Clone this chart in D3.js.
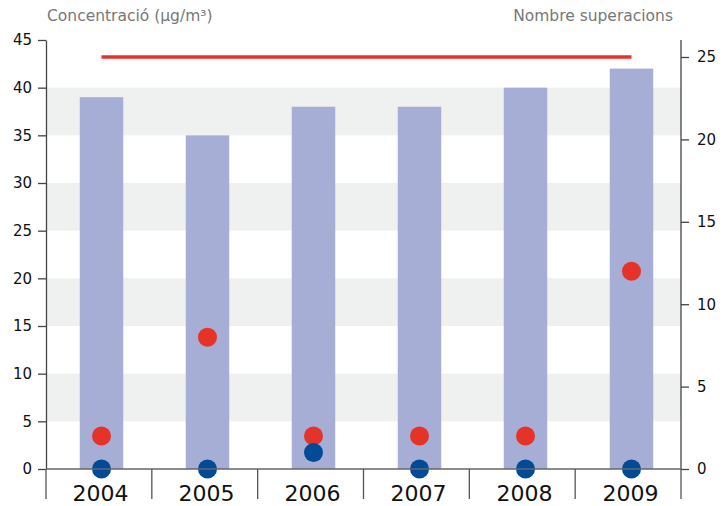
<!DOCTYPE html>
<html>
<head>
<meta charset="utf-8">
<script src="https://cdn.jsdelivr.net/npm/d3@7"></script>
<style>
  body { margin: 0; background: #fff; }
  text { font-family: "DejaVu Sans", sans-serif; }
</style>
</head>
<body>
<div id="main"></div>
<script>
// data
const years = ['2004', '2005', '2006', '2007', '2008', '2009'];
const concentration = [39, 35, 38, 38, 40, 42];      // bars, left axis (µg/m3)
const exceedRed = [2, 8, 2, 2, 2, 12];                // red dots, right axis
const exceedBlue = [0, 0, 1, 0, 0, 0];                // blue dots, right axis
const limitValue = 25;                                 // red line, right axis
const leftTicks = [0, 5, 10, 15, 20, 25, 30, 35, 40, 45];
const rightTicks = [0, 5, 10, 15, 20, 25];

const width = 726;
const height = 506;
const margin = { top: 40, right: 45, bottom: 37, left: 46 };
const plotRight = width - margin.right;
const plotBottom = height - margin.bottom;

const colors = {
  bar: '#a6aed5',
  red: '#e6332a',
  blue: '#004b98',
  stripe: '#eff0f0',
  axis: '#444',
  title: '#777'
};

const svg = d3.select('#main')
  .append('svg')
  .attr('width', width)
  .attr('height', height);

// bars sit a touch to the right of the cells drawn by the dividers
const xScale = d3.scaleBand()
  .domain(years)
  .range([margin.left + 2.5, plotRight + 3.5])
  .paddingInner(0.59)
  .paddingOuter(0.295);

const xGrid = d3.scaleBand()
  .domain(years)
  .range([margin.left, plotRight]);

const yLeft = d3.scaleLinear()
  .domain([0, 45])
  .range([plotBottom, margin.top]);

// right axis: 25 sits a little below the top of the plot
const yRight = d3.scaleLinear()
  .domain([0, 25])
  .range([plotBottom, 57]);

// background stripes between every other tick
const stripes = d3.pairs(leftTicks).filter((d, i) => i % 2 === 1 && d[1] <= 40);
svg.append('g').selectAll('rect')
  .data(stripes)
  .enter()
  .append('rect')
  .attr('x', margin.left)
  .attr('width', plotRight - margin.left)
  .attr('y', (d) => yLeft(d[1]))
  .attr('height', (d) => yLeft(d[0]) - yLeft(d[1]))
  .attr('fill', colors.stripe);

// bars
svg.append('g').selectAll('rect')
  .data(concentration)
  .enter()
  .append('rect')
  .attr('x', (d, i) => xScale(years[i]))
  .attr('width', xScale.bandwidth())
  .attr('y', (d) => yLeft(d))
  .attr('height', (d) => yLeft(0) - yLeft(d))
  .attr('fill', colors.bar);

// limit line
const center = (y) => xScale(y) + xScale.bandwidth() / 2;
svg.append('line')
  .attr('x1', center(years[0]))
  .attr('x2', center(years[years.length - 1]))
  .attr('y1', yRight(limitValue))
  .attr('y2', yRight(limitValue))
  .attr('stroke', colors.red)
  .attr('stroke-width', 3.5);

// dots
const dotRadius = 9.5;
svg.append('g').selectAll('circle')
  .data(exceedRed)
  .enter()
  .append('circle')
  .attr('cx', (d, i) => center(years[i]))
  .attr('cy', (d) => yRight(d))
  .attr('r', dotRadius)
  .attr('fill', colors.red);

svg.append('g').selectAll('circle')
  .data(exceedBlue)
  .enter()
  .append('circle')
  .attr('cx', (d, i) => center(years[i]))
  .attr('cy', (d) => yRight(d))
  .attr('r', dotRadius)
  .attr('fill', colors.blue);

// left axis
const leftAxis = svg.append('g')
  .attr('transform', `translate(${margin.left}, 0)`)
  .call(d3.axisLeft(yLeft).tickValues(leftTicks).tickSize(8).tickSizeOuter(0).tickPadding(6));

// right axis
const rightAxis = svg.append('g')
  .attr('transform', `translate(${plotRight}, 0)`)
  .call(d3.axisRight(yRight).tickValues(rightTicks).tickSize(8).tickSizeOuter(0).tickPadding(8));
rightAxis.select('.domain')
  .attr('d', `M0,${margin.top}V${plotBottom}`);

[leftAxis, rightAxis].forEach((ax) => {
  ax.select('.domain').attr('stroke', colors.axis).attr('stroke-width', 1.3);
  ax.selectAll('.tick line').attr('stroke', colors.axis).attr('stroke-width', 1.3);
  ax.selectAll('.tick text')
    .attr('fill', '#111')
    .style('font-size', '15px')
    .style('font-family', '"DejaVu Sans", sans-serif');
});

// bottom axis: baseline with dividers between years
svg.append('line')
  .attr('x1', margin.left)
  .attr('x2', plotRight)
  .attr('y1', plotBottom)
  .attr('y2', plotBottom)
  .attr('stroke', '#666')
  .attr('stroke-width', 1.3);

const dividers = years.map((y) => xGrid(y)).concat([plotRight]);
svg.append('g').selectAll('line')
  .data(dividers)
  .enter()
  .append('line')
  .attr('x1', (d) => d)
  .attr('x2', (d) => d)
  .attr('y1', plotBottom)
  .attr('y2', plotBottom + 30)
  .attr('stroke', '#555')
  .attr('stroke-width', 1.3);

svg.append('g').selectAll('text')
  .data(years)
  .enter()
  .append('text')
  .attr('x', (d) => center(d) - 1)
  .attr('y', plotBottom + 32)
  .attr('text-anchor', 'middle')
  .style('font-size', '22px')
  .attr('fill', '#111')
  .text((d) => d);

// axis titles
svg.append('text')
  .attr('x', 47)
  .attr('y', 21)
  .attr('fill', colors.title)
  .style('font-size', '15.5px')
  .text('Concentració (µg/m³)');

svg.append('text')
  .attr('x', 673)
  .attr('y', 21)
  .attr('text-anchor', 'end')
  .attr('fill', colors.title)
  .style('font-size', '15.5px')
  .text('Nombre superacions');
</script>
</body>
</html>
